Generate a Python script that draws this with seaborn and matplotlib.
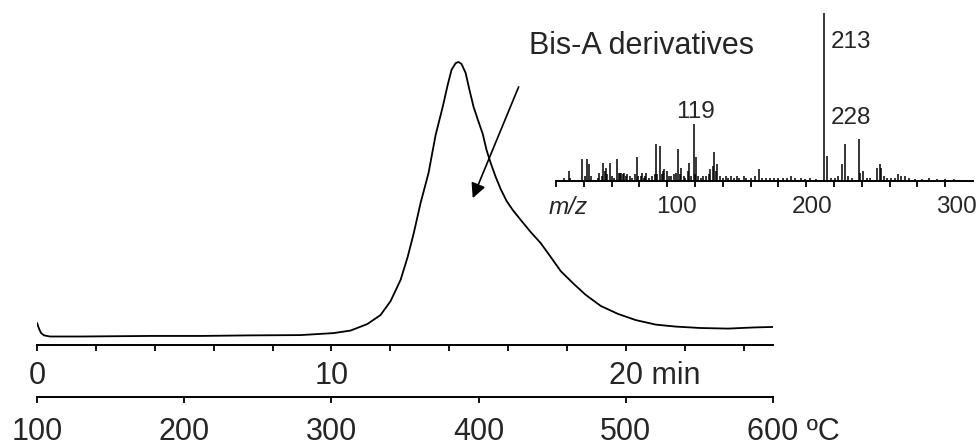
import matplotlib
matplotlib.use("Agg")
import matplotlib.pyplot as plt
import seaborn as sns

# estilo
sns.set_style("white")
plt.rcParams["font.family"] = ["Liberation Sans", "DejaVu Sans"]

# termograma (tempo em min, intensidade relativa, pico = 100)
time_min = [0.00, 0.07, 0.14, 0.24, 0.44, 1.46, 3.84, 5.54, 7.24, 8.95,
            10.07, 10.65, 11.22, 11.67, 12.01, 12.35, 12.59, 12.79, 13.03, 13.30,
            13.54, 13.78, 13.95, 14.08, 14.22, 14.32, 14.42, 14.56, 14.69, 14.83,
            15.00, 15.14, 15.27, 15.41, 15.58, 15.75, 15.95, 16.16, 16.43, 16.77,
            17.11, 17.45, 17.79, 18.23, 18.64, 19.15, 19.73, 20.34, 21.02, 21.70,
            22.55, 23.47, 24.35, 25.07]
intensity = [7.8, 5.7, 4.2, 3.4, 3.0, 3.0, 3.2, 3.2, 3.4, 3.5,
             4.2, 5.1, 7.4, 10.6, 15.5, 23.0, 31.1, 39.2, 50.2, 60.8,
             74.2, 84.1, 91.9, 97.2, 99.6, 100.0, 99.3, 96.1, 90.1, 84.1,
             78.8, 74.6, 68.9, 64.3, 59.4, 55.1, 50.9, 47.7, 44.2, 39.9,
             36.0, 31.1, 26.1, 21.6, 17.7, 13.8, 11.0, 8.8, 7.2, 6.5,
             6.0, 5.8, 6.2, 6.4]

time_major = [0, 10, 20]
time_minor = list(range(0, 25, 2))
temp_ticks = [100, 200, 300, 400, 500, 600]

# espectro de massas (m/z, intensidade relativa)
mz = [26, 29, 30, 39, 41, 42, 44, 45, 50, 51, 53, 54, 55, 56, 57, 59, 60, 62,
      64, 65, 66, 67, 68, 69, 70, 71, 73, 75, 77, 78, 79, 81, 82, 83, 84, 85,
      87, 89, 91, 92, 93, 95, 96, 97, 98, 100, 101, 103, 105, 106, 108, 109,
      110, 112, 113, 115, 116, 117, 119, 120, 121, 122, 124, 126, 128, 130,
      131, 133, 134, 135, 136, 138, 140, 142, 144, 146, 148, 150, 152, 155,
      157, 160, 163, 166, 168, 171, 174, 177, 180, 183, 186, 189, 192, 196,
      199, 203, 207, 213, 215, 218, 221, 223, 226, 228, 230, 233, 238, 239,
      241, 244, 246, 251, 253, 254, 256, 258, 261, 264, 266, 268, 271, 274,
      278, 283, 288, 294, 300, 306]
rel_int = [2, 6, 2, 13, 3, 13, 10, 3, 2, 5, 3, 11, 6, 8, 4, 11, 3, 2,
           13, 5, 5, 5, 4, 5, 3, 4, 3, 2, 4, 14, 3, 3, 5, 2, 3, 5,
           2, 3, 4, 22, 4, 21, 4, 6, 7, 6, 3, 3, 4, 5, 19, 4,
           8, 3, 2, 6, 11, 3, 34, 4, 14, 3, 2, 3, 3, 4,
           7, 9, 17, 6, 10, 3, 2, 3, 2, 3, 2, 3, 2, 3,
           2, 2, 3, 7, 2, 2, 2, 2, 2, 2, 2, 3, 2, 2,
           1, 2, 1, 100, 15, 2, 2, 3, 10, 22, 3, 2, 25, 5,
           6, 2, 2, 8, 10, 8, 3, 2, 2, 2, 4, 3, 3, 2,
           1, 1, 2, 1, 1, 1]
ms_ticks = list(range(20, 301, 20))
ms_labels = ["100", "200", "300"]
ms_label_pos = [107, 204, 308]
peak_text = ["119", "213", "228"]
peak_pos = [(120.7, 41), (217.9, 82.7), (217.9, 37.5)]
peak_ha = ["center", "left", "left"]

W, H = 977, 446
fig = plt.figure(figsize=(W / 100, H / 100), dpi=100)

# eixo principal (tempo)
ax = fig.add_axes([37 / W, 101 / H, 736 / W, 345 / H])
ax.patch.set_alpha(0)
sns.lineplot(x=time_min, y=intensity, ax=ax, color="black", linewidth=1.3,
             sort=False, estimator=None)
ax.set_xlim(0, 25)
ax.set_ylim(0, 121.9)
for s in ["top", "left", "right"]:
    ax.spines[s].set_visible(False)
ax.spines["bottom"].set_linewidth(1.4)
ax.spines["bottom"].set_color("black")
ax.set_yticks([])
time_pad = 7.2
ax.set_xticks(time_major, ["0", "10", ""])
ax.set_xticks(time_minor, minor=True)
ax.tick_params(axis="x", which="both", direction="out", length=4.3, width=1.3,
               color="black", bottom=True, labelsize=22, pad=time_pad)
ax.annotate("20 min", xy=(20, 0), xycoords=("data", "axes fraction"),
            xytext=(-12.2, -(4.3 + time_pad)), textcoords="offset points",
            ha="left", va="top", fontsize=22)

# seta e rotulo
ax.annotate("", xy=(14.80, 51.9), xytext=(16.36, 91.2),
            arrowprops=dict(arrowstyle="-|>", color="black", lw=1.2,
                            mutation_scale=22, shrinkA=0, shrinkB=0))
ax.text(16.7, 105.5, "Bis-A derivatives", fontsize=22, ha="left", va="center")

# eixo de temperatura
ax2 = ax.twiny()
ax2.set_xlim(100, 600)
for s in ["top", "left", "right"]:
    ax2.spines[s].set_visible(False)
ax2.spines["bottom"].set_visible(True)
ax2.spines["bottom"].set_position(("outward", 37.4))
ax2.spines["bottom"].set_linewidth(1.4)
ax2.spines["bottom"].set_color("black")
ax2.xaxis.set_ticks_position("bottom")
ax2.xaxis.set_label_position("bottom")
temp_pad = 10.3
ax2.set_xticks(temp_ticks, ["100", "200", "300", "400", "500", ""])
ax2.tick_params(axis="x", direction="out", length=4.3, width=1.3, color="black",
                labelsize=22, pad=temp_pad)
ax2.annotate("600 \u00baC", xy=(600, 0), xycoords=("data", "axes fraction"),
             xytext=(-18.4, -(37.4 + 4.3 + temp_pad)), textcoords="offset points",
             ha="left", va="top", fontsize=22)

# inset: espectro de massas
axi = fig.add_axes([556 / W, (H - 181) / H, 417 / W, 181 / H])
axi.patch.set_alpha(0)
axi.vlines(mz, 0, rel_int, color="black", linewidth=1.1)
axi.set_xlim(20, 320)
axi.set_ylim(0, 107.7)
for s in ["top", "left", "right"]:
    axi.spines[s].set_visible(False)
axi.spines["bottom"].set_linewidth(1.4)
axi.spines["bottom"].set_color("black")
axi.set_yticks([])
axi.set_xticks(ms_ticks, [""] * len(ms_ticks))
axi.tick_params(axis="x", direction="out", length=4.3, width=1.3, color="black",
                bottom=True)
for lab, pos in zip(ms_labels, ms_label_pos):
    axi.annotate(lab, xy=(pos, 0), xycoords=("data", "axes fraction"),
                 xytext=(0, -19), textcoords="offset points",
                 ha="center", va="center", fontsize=17.5)
axi.annotate("m/z", xy=(28.6, 0), xycoords=("data", "axes fraction"),
             xytext=(0, -19), textcoords="offset points",
             ha="center", va="center", fontsize=17.5, style="italic")
for lab, (px, py), ha in zip(peak_text, peak_pos, peak_ha):
    axi.text(px, py, lab, fontsize=17.5, ha=ha, va="center")

fig.savefig("out.png", dpi=100)
